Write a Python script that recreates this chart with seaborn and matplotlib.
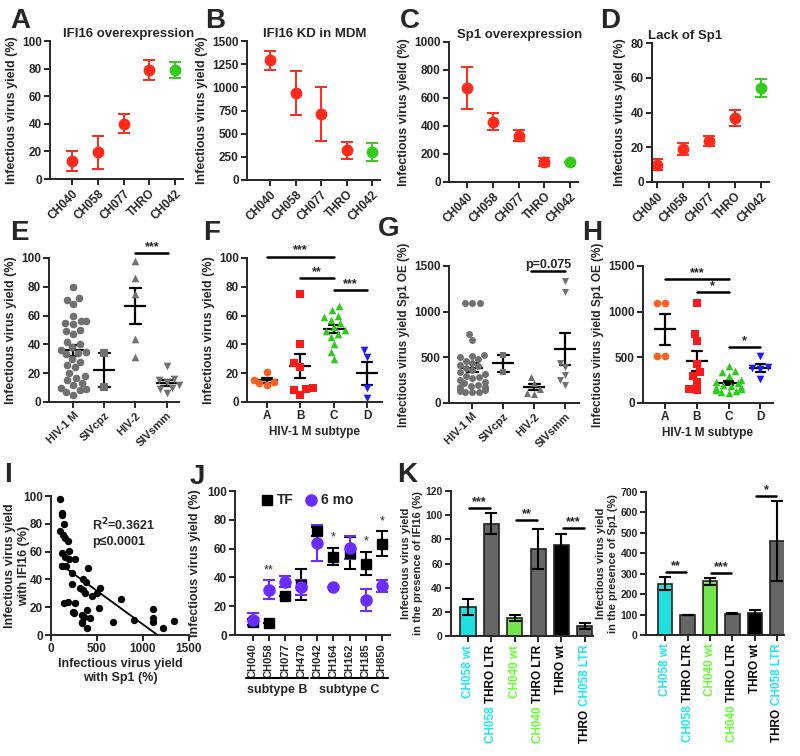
import numpy as np
import pandas as pd
import matplotlib
matplotlib.use("Agg")
import matplotlib.pyplot as plt
import seaborn as sns

# ---------------- data ----------------
strains = ["CH040", "CH058", "CH077", "THRO", "CH042"]
a_vals = [13, 19.5, 40, 79, 79]
a_err = [7, 12, 7, 7.5, 6]
b_vals = [1290, 940, 715, 320, 300]
b_err = [100, 240, 290, 95, 100]
c_vals = [670, 430, 330, 145, 140]
c_err = [150, 60, 40, 30, 0]
d_vals = [10, 19, 23.5, 37, 54]
d_err = [3, 3.5, 3, 4.5, 5]

virus_groups = ["HIV-1 M", "SIVcpz", "HIV-2", "SIVsmm"]
subtypes = ["A", "B", "C", "D"]

e_hiv1m = [80, 72, 71, 68, 60, 56, 56, 55, 54, 50, 49, 47, 42, 40, 38, 36, 35,
           34, 33, 30, 28, 26, 24, 20, 18, 17, 15, 13, 12, 10, 9, 8, 5, 7]
e_sivcpz = [34, 10.5]
e_hiv2 = [98, 86, 75, 44, 31]
e_sivsmm = [25, 16, 15, 14, 12, 10, 9, 6]

f_a = [21, 15, 13, 12, 14]
f_b = [75, 40, 24, 27, 10, 9, 5, 8]
f_c = [67, 64, 60, 59, 57, 55, 52, 50, 49, 47, 45, 40, 35, 30]
f_d = [36, 31, 10, 3]

g_hiv1m = [1100, 1100, 1100, 760, 690, 530, 520, 500, 480, 460, 440, 420, 400,
           380, 360, 340, 320, 300, 290, 270, 250, 230, 220, 200, 190, 180, 170,
           160, 150, 140, 130, 125, 120, 115]
g_sivcpz = [530, 340]
g_hiv2 = [290, 220, 150, 100, 110]
g_sivsmm = [1340, 1210, 440, 390, 310, 250, 200]

h_a = [1100, 1100, 520, 510]
h_b = [1100, 760, 680, 430, 340, 300, 230, 150, 140]
h_c = [400, 350, 340, 300, 250, 230, 220, 200, 190, 180, 160, 150, 140, 130, 120, 110]
h_d = [510, 390, 380, 370, 260]

i_sp1 = [99, 117, 124, 142, 99, 128, 157, 182, 124, 197, 153, 201, 263, 120, 164,
         226, 398, 226, 347, 383, 310, 347, 372, 537, 500, 449, 142, 190, 266, 237,
         252, 336, 354, 339, 427, 394, 518, 391, 766, 675, 902, 1106, 1110, 1113,
         1212, 1340, 336]
i_ifi16 = [98, 87.5, 86, 80, 74.5, 72, 70, 67.6, 59, 60.4, 56, 55, 54.4, 49.6, 50,
           44.4, 48, 36.5, 40, 38.4, 34, 32.4, 30.5, 33.6, 30, 28, 23.3, 23.7, 23.3,
           16.8, 15.6, 14.4, 12.7, 9.6, 12, 18, 19.2, 5.3, 25.9, 9.1, 10.8, 18.5, 12,
           9.6, 5.3, 10.3, 8.4]

j_strains = ["CH040", "CH058", "CH077", "CH470", "CH042", "CH164", "CH162", "CH185", "CH850"]
tf_vals = [9, 8.5, 27, 35, 72, 54.5, 57, 49.5, 63.5]
tf_err = [2, 0, 0, 10.5, 3, 6, 11, 8, 8.5]
mo6_vals = [10.5, 31.5, 37, 33, 64, 33, 60.5, 24.5, 34]
mo6_err = [4.5, 6.5, 4, 5.5, 12.5, 0, 8, 7.5, 4]
j_stars = ["", "**", "", "", "", "*", "", "*", "*"]

CYAN, GREEN_K, GRAY_K = "#1ee8f0", "#66ff33", "#666666"
k_label_parts = [
    [("CH058 wt", CYAN)],
    [("CH058 ", CYAN), ("THRO LTR", "black")],
    [("CH040 wt", GREEN_K)],
    [("CH040 ", GREEN_K), ("THRO LTR", "black")],
    [("THRO wt", "black")],
    [("THRO ", "black"), ("CH058 LTR", CYAN)],
]
k_colors = ["#00ffff", GRAY_K, GREEN_K, GRAY_K, "black", GRAY_K]
k1_vals = [24, 93, 15, 72, 75, 8]
k1_err = [6.5, 8.5, 2.5, 16.5, 9.5, 2.5]
k2_vals = [250, 100, 262, 104, 110, 460]
k2_err = [32, 0, 15, 3, 12, 198]

RED, GREEN = "#ff2a1a", "#33cc1a"
GRAY = "#707070"
sub_colors = ["#ff5f1f", "#ff1a1a", "#2ecc1a", "#1a1aff"]
PURPLE = "#6a2cff"

# ---------------- style ----------------
sns.set_theme(style="ticks")
plt.rcParams["font.family"] = ["Liberation Sans", "DejaVu Sans"]
plt.rcParams["font.weight"] = "bold"
plt.rcParams["axes.labelweight"] = "bold"
plt.rcParams["axes.titleweight"] = "bold"

W, H = 800, 756
fig = plt.figure(figsize=(W / 100, H / 100), dpi=100)


def add_box(x0, y0, x1, y1):
    return fig.add_axes([x0 / W, 1 - y1 / H, (x1 - x0) / W, (y1 - y0) / H])


def style(ax, ymax, yticks, xlim, fs=8.5):
    sns.despine(ax=ax)
    ax.set_ylim(0, ymax)
    ax.set_yticks(yticks)
    ax.set_xlim(*xlim)
    for s in ["left", "bottom"]:
        ax.spines[s].set_linewidth(1.4)
    ax.tick_params(axis="both", width=1.4, length=4, labelsize=fs, pad=2)
    ax.set_xlabel("")
    for art in ax.collections + ax.lines:
        art.set_clip_on(False)


def sig(ax, x1, x2, y, label, fs=9):
    ax.plot([x1, x2], [y, y], color="black", lw=1.8, clip_on=False)
    ax.text((x1 + x2) / 2, y, label, ha="center", va="bottom", fontsize=fs, clip_on=False)


def letter(x, y, s):
    fig.text(x / W, 1 - y / H, s, fontsize=20, fontweight="bold", va="top", ha="left")


YL = "Infectious virus yield (%)"

# ---------------- row 1 ----------------
row1 = [
    ("A", (50, 41, 183, 179), a_vals, a_err, 100, range(0, 101, 20), (-0.85, 4.3), "IFI16 overexpression", 0.1, (10, 8)),
    ("B", (247, 41, 380, 180), b_vals, b_err, 1500, range(0, 1501, 250), (-0.9, 4.3), "IFI16 KD in MDM", 0.12, (205, 8)),
    ("C", (449, 42, 578, 182), c_vals, c_err, 1000, range(0, 1001, 200), (-0.7, 4.3), "Sp1 overexpression", 0.06, (400, 8)),
    ("D", (652, 43, 769, 182), d_vals, d_err, 80, range(0, 81, 20), (-0.2, 4.3), "Lack of Sp1", -0.03, (600, 8)),
]
pt_colors = [RED, RED, RED, RED, GREEN]
for lab, box, vals, errs, ymax, yt, xl, title, tx, lpos in row1:
    ax = add_box(*box)
    for i, (v, e, col) in enumerate(zip(vals, errs, pt_colors)):
        ax.errorbar(i, v, yerr=e, fmt="o", color=col, ecolor=col, markersize=7.5,
                    capsize=4, elinewidth=1.4, capthick=1.4, clip_on=False)
    ax.set_xticks(range(len(strains)))
    ax.set_xticklabels(strains, rotation=45, ha="right", rotation_mode="anchor", fontsize=8)
    style(ax, ymax, list(yt), xl)
    ax.set_ylabel(YL, fontsize=9, labelpad=3)
    ax.set_title(title, fontsize=9.5, pad=3, loc="left", x=tx)
    letter(*lpos, lab)


# ---------------- row 2 ----------------
def scatter_panel(ax, groups, names, markers, colors, size, capsize):
    for vals, name, mk, col in zip(groups, names, markers, colors):
        sns.swarmplot(x=[name] * len(vals), y=vals, order=names, marker=mk,
                      color=col, size=size, ax=ax)
    long = pd.DataFrame({"group": np.repeat(names, [len(v) for v in groups]),
                         "value": np.concatenate(groups)})
    sns.pointplot(data=long, x="group", y="value", order=names, errorbar="se",
                  color="black", marker="_", markersize=16, markeredgewidth=1.6,
                  linestyle="none", capsize=capsize, err_kws={"linewidth": 1.6}, ax=ax)


grp_markers = ["o", "s", "^", "v"]

ax = add_box(49, 258, 179, 402)
scatter_panel(ax, [e_hiv1m, e_sivcpz, e_hiv2, e_sivsmm], virus_groups, grp_markers,
              [GRAY] * 4, 5.5, 0.35)
style(ax, 100, range(0, 101, 20), (-0.78, 3.4))
ax.set_xticks(range(4))
ax.set_xticklabels(virus_groups, rotation=45, ha="right", rotation_mode="anchor", fontsize=8)
ax.set_ylabel(YL, fontsize=9, labelpad=3)
sig(ax, 2, 3.05, 103.5, "***")
letter(10, 220, "E")

ax = add_box(247, 258, 382, 402)
scatter_panel(ax, [f_a, f_b, f_c, f_d], subtypes, grp_markers, sub_colors, 5.5, 0.3)
style(ax, 100, range(0, 101, 20), (-0.6, 3.45))
ax.set_xticks(range(4))
ax.set_xticklabels(subtypes, fontsize=8.5)
ax.set_ylabel(YL, fontsize=9, labelpad=3)
ax.set_xlabel("HIV-1 M subtype", fontsize=8.5, labelpad=3)
sig(ax, 0, 2, 101, "***")
sig(ax, 1, 2, 86, "**")
sig(ax, 2, 3, 78, "***")
letter(203, 220, "F")

YL2 = "Infectious virus yield Sp1 OE (%)"
ax = add_box(449, 266, 579, 403)
scatter_panel(ax, [g_hiv1m, g_sivcpz, g_hiv2, g_sivsmm], virus_groups, grp_markers,
              [GRAY] * 4, 5, 0.35)
style(ax, 1500, range(0, 1501, 500), (-0.75, 3.45))
ax.set_xticks(range(4))
ax.set_xticklabels(virus_groups, rotation=45, ha="right", rotation_mode="anchor", fontsize=8)
ax.set_ylabel(YL2, fontsize=8.5, labelpad=3)
sig(ax, 1.9, 3, 1445, "p=0.075", fs=9)
letter(378, 216, "G")

ax = add_box(643, 266, 773, 403)
scatter_panel(ax, [h_a, h_b, h_c, h_d], subtypes, grp_markers, sub_colors, 5.5, 0.3)
style(ax, 1500, range(0, 1501, 500), (-0.7, 3.4))
ax.set_xticks(range(4))
ax.set_xticklabels(subtypes, fontsize=8.5)
ax.set_ylabel(YL2, fontsize=8.5, labelpad=3)
ax.set_xlabel("HIV-1 M subtype", fontsize=8.5, labelpad=3)
sig(ax, 0, 2, 1358, "***")
sig(ax, 1, 2, 1215, "*")
sig(ax, 2, 3, 613, "*")
letter(582, 220, "H")

# ---------------- row 3 ----------------
ax = add_box(51, 496, 189, 635)
sns.regplot(x=i_sp1, y=i_ifi16, ci=None, ax=ax,
            scatter_kws={"s": 28, "color": "black", "alpha": 1, "linewidths": 0},
            line_kws={"color": "black", "lw": 1.3})
style(ax, 100, range(0, 101, 20), (0, 1500))
for ln in ax.lines:
    ln.set_clip_on(True)
ax.set_xticks([0, 500, 1000, 1500])
ax.set_ylabel("Infectious virus yield\nwith IFI16 (%)", fontsize=9)
ax.yaxis.set_label_coords(-0.15, 0.5)
ax.set_xlabel("Infectious virus yield\nwith Sp1 (%)", fontsize=9, labelpad=2)
ax.text(445, 79, "R$^\\mathbf{2}$=0.3621", fontsize=9, va="center")
ax.text(445, 67, "p\u22640.0001", fontsize=9, va="center")
letter(4, 462, "I")

ax = add_box(235, 491, 390, 635)
xj = np.arange(len(j_strains))
h_tf = ax.errorbar(xj, tf_vals, yerr=tf_err, fmt="s", color="black", markersize=7.5,
                   capsize=4, elinewidth=1.5, capthick=1.5, label="TF")
h_6 = ax.errorbar(xj, mo6_vals, yerr=mo6_err, fmt="o", color=PURPLE, markersize=8,
                  capsize=4, elinewidth=1.5, capthick=1.5, label="6 mo")
for x, s, t, te, m, me in zip(xj, j_stars, tf_vals, tf_err, mo6_vals, mo6_err):
    if s:
        ax.text(x, max(t + te, m + me) + 3, s, ha="center", va="bottom", fontsize=9,
                fontweight="normal")
style(ax, 100, range(0, 101, 20), (-1.1, 8.5))
ax.set_xticks(xj)
ax.set_xticklabels(j_strains, rotation=90, fontsize=8)
ax.set_ylabel(YL, fontsize=9)
ax.legend(handles=[h_tf[0], h_6[0]], labels=["TF", "6 mo"], ncol=2, frameon=False,
          loc="upper left", bbox_to_anchor=(0.08, 1.07), fontsize=10,
          handletextpad=0.2, columnspacing=0.8, handlelength=1.0)
tr = ax.get_xaxis_transform()
for lo, hi, txt in [(-0.4, 3.4, "subtype B"), (3.6, 8.4, "subtype C")]:
    ax.plot([lo, hi], [-0.3, -0.3], color="black", lw=1.5, transform=tr, clip_on=False)
    ax.text((lo + hi) / 2, -0.34, txt, ha="center", va="top", fontsize=9, transform=tr)
letter(190, 464, "J")


def k_panel(box, vals, errs, ymax, yticks, xlim, ylabel, sigs):
    ax = add_box(*box)
    keys = ["".join(p for p, _ in parts) for parts in k_label_parts]
    sns.barplot(x=keys, y=vals, hue=keys, palette=dict(zip(keys, k_colors)), legend=False,
                width=0.65, edgecolor="#222222", linewidth=1.2, ax=ax)
    ax.errorbar(range(len(vals)), vals, yerr=errs, fmt="none", ecolor="black",
                capsize=4, elinewidth=1.5, capthick=1.5)
    style(ax, ymax, yticks, xlim, fs=7.5)
    ax.set_xticks(range(len(vals)))
    ax.set_xticklabels([])
    ax.set_ylabel(ylabel, fontsize=8, labelpad=2)
    tr = ax.get_xaxis_transform()
    for i, parts in enumerate(k_label_parts):
        txt, col = parts[-1]
        t = ax.text(i, -0.06, txt, color=col, rotation=90, ha="center", va="top",
                    fontsize=8.5, transform=tr)
        for txt, col in reversed(parts[:-1]):
            t = ax.annotate(txt, xy=(0.5, 0), xycoords=t, color=col, rotation=90,
                            ha="center", va="top", fontsize=8.5)
    for x1, x2, y, s in sigs:
        sig(ax, x1, x2, y, s)
    return ax


k_panel((451, 491, 593, 636), k1_vals, k1_err, 120, range(0, 121, 20), (-0.73, 5.35),
        "Infectious virus yield\nin the presence of IFI16 (%)",
        [(0.05, 0.95, 106, "***"), (2.05, 2.95, 96, "**"), (4.05, 4.95, 89, "***")])
k_panel((646, 492, 784, 635), k2_vals, k2_err, 700, range(0, 701, 100), (-0.85, 5.3),
        "Infectious virus yield\nin the presence of Sp1 (%)",
        [(0.05, 0.95, 308, "**"), (2.05, 2.95, 303, "***"), (4.05, 4.95, 680, "*")])
letter(397, 462, "K")

fig.savefig("out.png", dpi=100, facecolor="white")
